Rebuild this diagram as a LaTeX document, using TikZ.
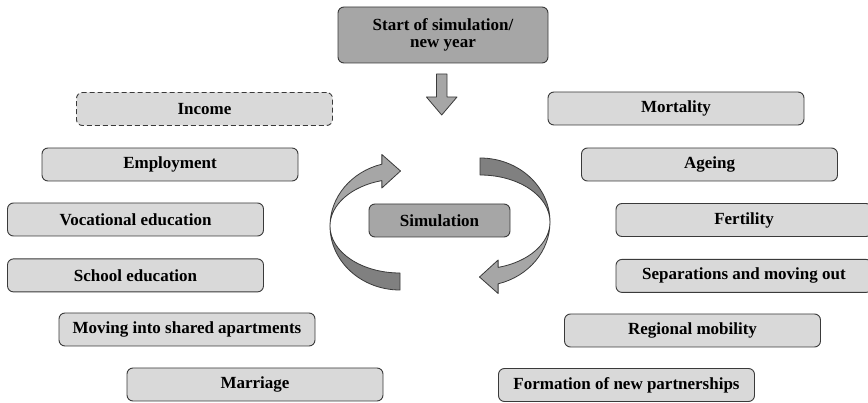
\documentclass[tikz,border=0pt]{standalone}
\usepackage{xcolor}
\usepackage{fontspec}
\setmainfont{Liberation Serif}
\usepackage{tikz}
\usetikzlibrary{positioning}
\definecolor{boxgray}{HTML}{D9D9D9}
\definecolor{midgray}{HTML}{A6A6A6}
\definecolor{ribbongray}{HTML}{808080}
\definecolor{edgegray}{HTML}{3A3A3A}
\tikzset{
    block/.style={
        draw = edgegray, fill = boxgray,
        line width = 0.9pt, rounded corners = 6pt,
        minimum width = 256pt,
        minimum height = 33pt,
        inner sep = 0pt, align = center,
        font = \fontsize{17}{17}\selectfont\bfseries
    },
    mainblock/.style = {block, fill = midgray},
    ribbon/.style = {draw = edgegray, line width = 0.8pt, line join = round}
}
\begin{document}
\begin{tikzpicture}[x = 1pt, y = -1pt]

    \useasboundingbox (0,0) rectangle (868,403);
    \clip (0,0) rectangle (868,403);

    \node[mainblock, minimum width = 210pt, minimum height = 56pt] (start) at (443,35) {Start of simulation/\\new year};
    \node[mainblock, minimum width = 141pt] (sim) at (439.5,220.5) {Simulation};

    % left column
    \node[block, dash pattern = on 5pt off 3pt] (income) at (204.5,109) {Income};
    \node[block] (employment) at (170,164.5) {Employment};
    \node[block] (vocational) at (135.5,219.5) {Vocational education};
    \node[block, below = 22pt of vocational] (school) {School education};
    \node[block] (shared) at (187,329.5) {Moving into shared apartments};
    \node[block] (marriage) at (255,384.5) {Marriage};

    % right column
    \node[block] (mortality) at (676,108.5) {Mortality};
    \node[block] (ageing) at (709.5,164.5) {Ageing};
    \node[block] (fertility) at (744,220) {Fertility};
    \node[block, below = 22pt of fertility] (separation) {Separations and moving out};
    \node[block] (mobility) at (692.5,330.5) {Regional mobility};
    \node[block] (partnership) at (626.5,385) {Formation of new partnerships};

    % down arrow
    \coordinate (arrowtop) at (441.7,74);
    \draw[ribbon, fill = midgray] (arrowtop) ++(-5.3,0) -- ++(10.6,0) -- ++(0,23) -- ++(10,0)
        -- ++(-15.3,18) -- ++(-15.3,-18) -- ++(10,0) -- cycle;

    % cycle arrows
    \foreach \r in {0,180} {
        \begin{scope}[rotate around = {\r:(440,224)}]
            \draw[ribbon, fill = ribbongray] (330,226)
                arc[start angle = 180, end angle = 270, x radius = 70pt, y radius = 64pt]
                -- (400,273)
                arc[start angle = 270, end angle = 180, x radius = 70pt, y radius = 47pt] -- cycle;
            \draw[ribbon, fill = midgray] (381.88,164.18)
                arc[start angle = 105, end angle = 180, x radius = 70pt, y radius = 64pt]
                arc[start angle = 180, end angle = 105, x radius = 70pt, y radius = 47pt]
                -- (381.88,188) -- (400.5,171) -- (381.88,154.5) -- cycle;
        \end{scope}
    }

\end{tikzpicture}
\end{document}
